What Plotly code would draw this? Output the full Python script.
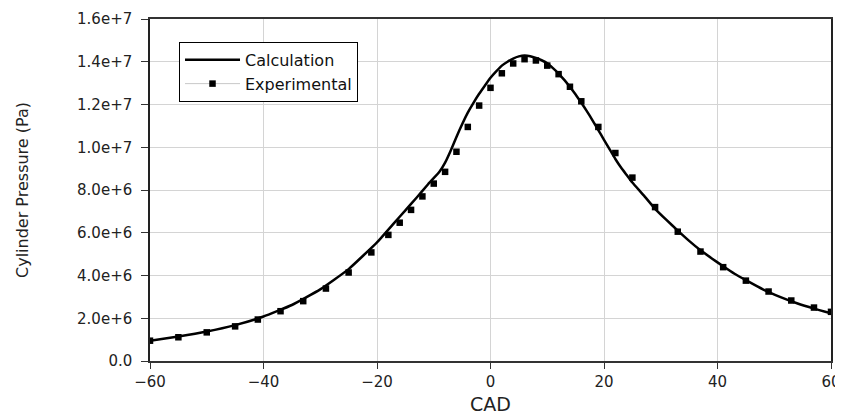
import plotly.graph_objects as go

# Experimental data (CAD, Pa)
exp_cad = [-60, -55, -50, -45, -41, -37, -33, -29, -25, -21, -18, -16, -14, -12, -10, -8, -6, -4, -2, 0,
           2, 4, 6, 8, 10, 12, 14, 16, 19, 22, 25, 29, 33, 37, 41, 45, 49, 53, 57, 60]
exp_p = [0.95e6, 1.11e6, 1.34e6, 1.62e6, 1.94e6, 2.33e6, 2.80e6, 3.39e6, 4.14e6, 5.08e6, 5.90e6, 6.47e6,
         7.07e6, 7.70e6, 8.30e6, 8.85e6, 9.79e6, 10.95e6, 11.95e6, 12.78e6, 13.46e6, 13.92e6, 14.12e6,
         14.06e6, 13.82e6, 13.42e6, 12.83e6, 12.15e6, 10.95e6, 9.73e6, 8.58e6, 7.20e6, 6.05e6, 5.12e6,
         4.39e6, 3.76e6, 3.25e6, 2.83e6, 2.50e6, 2.30e6]

# Calculation curve (CAD, Pa)
calc_cad = [-60, -55, -50, -45, -40, -35, -30, -25, -20, -17, -15, -13, -11, -9, -8, -7, -6, -5, -4, -3,
            -2, -1, 0, 1, 2, 3, 4, 5, 6, 7, 8, 9, 10, 11, 12, 13, 14, 15, 16, 17, 18, 19, 20, 21, 22, 23,
            24, 25, 27, 29, 31, 33, 35, 37, 39, 41, 43, 45, 48, 51, 54, 57, 60]
calc_p = [0.95e6, 1.15e6, 1.38e6, 1.68e6, 2.08e6, 2.62e6, 3.35e6, 4.30e6, 5.55e6, 6.45e6, 7.05e6, 7.65e6,
          8.27e6, 8.85e6, 9.28e6, 9.85e6, 10.48e6, 11.08e6, 11.62e6, 12.08e6, 12.50e6, 12.88e6, 13.25e6,
          13.55e6, 13.82e6, 14.00e6, 14.15e6, 14.25e6, 14.29e6, 14.26e6, 14.18e6, 14.07e6, 13.93e6,
          13.70e6, 13.45e6, 13.15e6, 12.82e6, 12.47e6, 12.08e6, 11.68e6, 11.25e6, 10.80e6, 10.35e6,
          9.90e6, 9.45e6, 9.05e6, 8.70e6, 8.35e6, 7.75e6, 7.12e6, 6.60e6, 6.10e6, 5.62e6, 5.18e6, 4.80e6,
          4.43e6, 4.08e6, 3.78e6, 3.35e6, 3.00e6, 2.70e6, 2.45e6, 2.23e6]

x_ticks = [-60, -40, -20, 0, 20, 40, 60]
y_ticks = [0, 2e6, 4e6, 6e6, 8e6, 10e6, 12e6, 14e6, 16e6]
y_tick_labels = ["0.0", "2.0e+6", "4.0e+6", "6.0e+6", "8.0e+6", "1.0e+7", "1.2e+7", "1.4e+7", "1.6e+7"]

FAM = "DejaVu Sans, Arial, sans-serif"
tick_font = dict(family=FAM, size=15, color="#222")

fig = go.Figure()
fig.add_trace(go.Scatter(x=calc_cad, y=calc_p, mode="lines", name="Calculation",
                         line=dict(color="black", width=2.5, shape="spline", smoothing=0.4)))
fig.add_trace(go.Scatter(x=exp_cad, y=exp_p, mode="markers", name="Experimental", showlegend=False,
                         marker=dict(symbol="square", size=6.5, color="black")))
fig.add_trace(go.Scatter(x=[None], y=[None], mode="lines+markers", name="Experimental",
                         line=dict(color="#c8c8c8", width=1),
                         marker=dict(symbol="square", size=6.5, color="black")))

# page body has an 8px margin, so the figure is drawn 8px lower and further right
fig.update_layout(
    width=835, height=407,
    margin=dict(l=142, r=12, t=11, b=54),
    paper_bgcolor="white", plot_bgcolor="white",
    font=dict(family=FAM, size=15, color="#222"),
    showlegend=True,
    legend=dict(x=0.0426, y=0.933, xanchor="left", yanchor="top",
                bgcolor="white", bordercolor="black", borderwidth=1,
                font=dict(family=FAM, size=16, color="#111"),
                itemwidth=55, tracegroupgap=0),
    xaxis=dict(range=[-60, 60], tickvals=x_ticks, showgrid=True, gridcolor="#d4d4d4", gridwidth=1,
               showline=True, linecolor="#333", linewidth=1.5, mirror=True,
               ticks="outside", ticklen=6, tickcolor="#333", zeroline=False,
               tickfont=tick_font, ticklabelstandoff=0, automargin=False,
               title=dict(text="CAD", standoff=20, font=dict(family=FAM, size=19, color="#222"))),
    yaxis=dict(range=[0, 16e6], tickvals=y_ticks, ticktext=y_tick_labels, showgrid=True,
               gridcolor="#d4d4d4", gridwidth=1,
               showline=True, linecolor="#222", linewidth=1.5, mirror=True,
               ticks="outside", ticklen=7, tickcolor="#333", zeroline=False,
               tickfont=tick_font, ticklabelstandoff=6, automargin=False,
               title=dict(text="Cylinder Pressure (Pa)", standoff=44,
                          font=dict(family=FAM, size=16, color="#222"))),
)

fig.write_html("out.html")
